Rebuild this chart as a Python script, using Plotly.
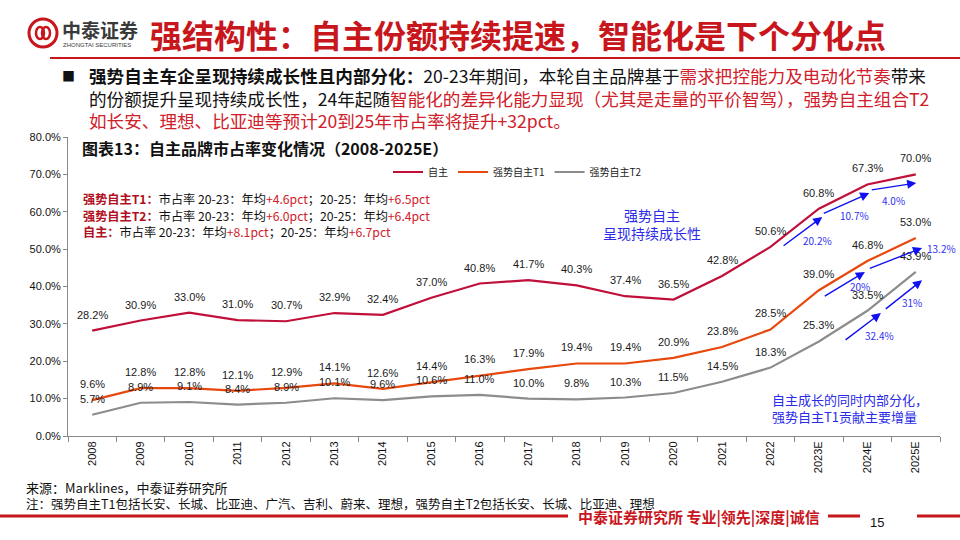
import plotly.graph_objects as go

years = ["2008", "2009", "2010", "2011", "2012", "2013", "2014", "2015", "2016",
         "2017", "2018", "2019", "2020", "2021", "2022", "2023E", "2024E", "2025E"]
zizhu = [28.2, 30.9, 33.0, 31.0, 30.7, 32.9, 32.4, 37.0, 40.8, 41.7, 40.3, 37.4,
         36.5, 42.8, 50.6, 60.8, 67.3, 70.0]
t1 = [9.6, 12.8, 12.8, 12.1, 12.9, 14.1, 12.6, 14.4, 16.3, 17.9, 19.4, 19.4,
      20.9, 23.8, 28.5, 39.0, 46.8, 53.0]
t2 = [5.7, 8.9, 9.1, 8.4, 8.9, 10.1, 9.6, 10.6, 11.0, 10.0, 9.8, 10.3,
      11.5, 14.5, 18.3, 25.3, 33.5, 43.9]
series_names = ["自主", "强势自主T1", "强势自主T2"]
series_colors = ["#C0103A", "#E8480C", "#8C8C8C"]

# growth arrows: (start_idx, start_val, end_idx, end_val, label, label_idx, label_val, anchor)
growth_arrows = [
    (14.24, 50.6, 15.07, 58.6, "20.2%", 14.98, 52.2, "center"),
    (15.07, 59.4, 16.04, 65.0, "10.7%", 15.73, 58.9, "center"),
    (16.06, 65.8, 17.01, 67.7, "4.0%", 16.53, 63.1, "center"),
    (15.09, 37.2, 15.95, 43.9, "20%", 15.85, 39.9, "center"),
    (16.02, 44.7, 17.13, 50.3, "13.2%", 17.18, 50.3, "left"),
    (15.52, 25.4, 16.28, 32.9, "32.4%", 16.26, 26.8, "center"),
    (16.35, 33.7, 17.13, 41.7, "31%", 16.92, 35.6, "center"),
]

W, H = 960, 540
L, R, T, B = 68, 20, 137, 104
PW, PH = W - L - R, H - T - B


def px(x):
    return (x - L) / PW


def py(y):
    return (H - B - y) / PH


CJK = "Noto Sans CJK SC"
RED = "#C8161D"

fig = go.Figure()
for name, vals, col in zip(series_names, [zizhu, t1, t2], series_colors):
    fig.add_trace(go.Scatter(x=years, y=vals, mode="lines", name=name,
                             line=dict(color=col, width=2.2)))

ann = []
# data labels (x given as category index so numeric-looking years stay categorical)
for vals in [zizhu, t1, t2]:
    for i, v in enumerate(vals):
        ann.append(dict(x=i, y=v, xref="x", yref="y", text=f"{v:.1f}%",
                        showarrow=False, yshift=16,
                        font=dict(family="Liberation Sans, Arial", size=11, color="#1a1a1a")))

# growth arrows
for (sx, sy, ex, ey, lab, lx, ly, anc) in growth_arrows:
    ann.append(dict(x=ex, y=ey, ax=sx, ay=sy, xref="x", yref="y", axref="x", ayref="y",
                    text="", showarrow=True, arrowhead=2, arrowsize=1.3, arrowwidth=1.4,
                    arrowcolor="#1010F0"))
    ann.append(dict(x=lx, y=ly, xref="x", yref="y", text=lab, showarrow=False,
                    xanchor=anc, font=dict(family=CJK, size=10, color="#3030F0")))

# header
ann.append(dict(x=px(60), y=py(29), xref="paper", yref="paper", text="<b>中泰证券</b>",
                showarrow=False, xanchor="left", yanchor="middle",
                font=dict(family=CJK, size=19, color="#3a3a3a")))
ann.append(dict(x=px(61), y=py(45), xref="paper", yref="paper", text="ZHONGTAI SECURITIES",
                showarrow=False, xanchor="left", yanchor="middle",
                font=dict(family="Liberation Sans", size=6, color="#3a3a3a")))
ann.append(dict(x=px(148), y=py(34), xref="paper", yref="paper",
                text="<b>强结构性：自主份额持续提速，智能化是下个分化点</b>",
                showarrow=False, xanchor="left", yanchor="middle",
                font=dict(family=CJK, size=32, color=RED)))

# bullet paragraph
ann.append(dict(x=px(60), y=py(76), xref="paper", yref="paper", text="■",
                showarrow=False, xanchor="left", yanchor="middle",
                font=dict(family=CJK, size=13, color="#111")))
para = [
    "<b>强势自主车企呈现持续成长性且内部分化：</b>20-23年期间，本轮自主品牌基于"
    "<span style='color:#D0202A'>需求把控能力及电动化节奏</span>带来",
    "的份额提升呈现持续成长性，24年起随<span style='color:#D0202A'>智能化的差异化能力显现（尤其是走量的平价智驾），强势自主组合T2</span>",
    "<span style='color:#D0202A'>如长安、理想、比亚迪等预计20到25年市占率将提升+32pct。</span>",
]
for i, line in enumerate(para):
    ann.append(dict(x=px(87), y=py(76 + 22 * i), xref="paper", yref="paper", text=line,
                    showarrow=False, xanchor="left", yanchor="middle",
                    font=dict(family=CJK, size=17.6, color="#111")))

# chart title
ann.append(dict(x=px(80), y=py(148), xref="paper", yref="paper",
                text="<b>图表13：自主品牌市占率变化情况（2008-2025E）</b>",
                showarrow=False, xanchor="left", yanchor="middle",
                font=dict(family=CJK, size=16, color="#111")))

# left summary
summary = [
    ("强势自主T1：", "+4.6pct", "+6.5pct"),
    ("强势自主T2：", "+6.0pct", "+6.4pct"),
    ("自主：", "+8.1pct", "+6.7pct"),
]
for i, (head, a, b) in enumerate(summary):
    txt = (f"<b><span style='color:#B01020'>{head}</span></b>市占率 20-23：年均"
           f"<span style='color:#D0202A'>{a}</span>；20-25：年均"
           f"<span style='color:#D0202A'>{b}</span>")
    ann.append(dict(x=px(82), y=py(199 + 16.5 * i), xref="paper", yref="paper", text=txt,
                    showarrow=False, xanchor="left", yanchor="middle", borderpad=0,
                    font=dict(family=CJK, size=12.2, color="#111")))

# blue commentary
ann.append(dict(x=px(652), y=py(224), xref="paper", yref="paper",
                text="强势自主<br>呈现持续成长性", showarrow=False, align="center",
                xanchor="center", yanchor="middle",
                font=dict(family=CJK, size=14, color="#2A2AE8")))
ann.append(dict(x=px(850), y=py(408), xref="paper", yref="paper",
                text="自主成长的同时内部分化，<br>强势自主T1贡献主要增量", showarrow=False,
                align="left", xanchor="center", yanchor="middle",
                font=dict(family=CJK, size=13, color="#2A2AE8")))

# footer notes
ann.append(dict(x=px(24), y=py(487), xref="paper", yref="paper",
                text="来源：Marklines，中泰证券研究所", showarrow=False,
                xanchor="left", yanchor="middle", font=dict(family=CJK, size=13, color="#111")))
ann.append(dict(x=px(24), y=py(503), xref="paper", yref="paper",
                text="注：强势自主T1包括长安、长城、比亚迪、广汽、吉利、蔚来、理想，强势自主T2包括长安、长城、比亚迪、理想",
                showarrow=False, xanchor="left", yanchor="middle",
                font=dict(family=CJK, size=12.5, color="#111")))
ann.append(dict(x=px(576), y=py(517), xref="paper", yref="paper",
                text="<b>中泰证券研究所 专业|领先|深度|诚信</b>", showarrow=False,
                xanchor="left", yanchor="middle", font=dict(family=CJK, size=15, color=RED)))
ann.append(dict(x=px(877), y=py(522), xref="paper", yref="paper", text="15",
                showarrow=False, xanchor="center", yanchor="middle",
                font=dict(family="Liberation Sans", size=13, color="#111")))

shapes = [
    # logo
    dict(type="circle", xref="paper", yref="paper", x0=px(29), x1=px(57), y0=py(47), y1=py(19),
         line=dict(color=RED, width=3)),
    dict(type="circle", xref="paper", yref="paper", x0=px(36), x1=px(44), y0=py(39), y1=py(27),
         line=dict(color=RED, width=2.5)),
    dict(type="circle", xref="paper", yref="paper", x0=px(42), x1=px(50), y0=py(39), y1=py(27),
         line=dict(color=RED, width=2.5)),
    # header rule
    dict(type="line", xref="paper", yref="paper", x0=px(50), x1=px(960), y0=py(58), y1=py(58),
         line=dict(color=RED, width=2)),
    # footer rules
    dict(type="line", xref="paper", yref="paper", x0=px(0), x1=px(568), y0=py(516), y1=py(516),
         line=dict(color=RED, width=3)),
    dict(type="line", xref="paper", yref="paper", x0=px(828), x1=px(860), y0=py(516), y1=py(516),
         line=dict(color=RED, width=3)),
    dict(type="line", xref="paper", yref="paper", x0=px(917), x1=px(960), y0=py(516), y1=py(516),
         line=dict(color=RED, width=3)),
]

fig.update_layout(
    width=W, height=H,
    margin=dict(l=L, r=R, t=T, b=B),
    paper_bgcolor="white", plot_bgcolor="white",
    showlegend=True,
    legend=dict(orientation="h", x=px(388), y=py(172), xanchor="left", yanchor="middle",
                font=dict(family=CJK, size=10, color="#222"), bgcolor="rgba(0,0,0,0)",
                itemwidth=30, tracegroupgap=0),
    xaxis=dict(type="category", tickangle=-90, showline=True, linecolor="#888", linewidth=1,
               ticks="outside", tickson="boundaries", ticklen=5, tickcolor="#888",
               showgrid=False, automargin=False,
               tickfont=dict(family="Liberation Sans, Arial", size=11, color="#111"),
               range=[-0.5, 17.5]),
    yaxis=dict(range=[0, 80], dtick=10, tickformat=".1f", ticksuffix="%", showline=True,
               linecolor="#888", linewidth=1, ticks="outside", ticklen=4, tickcolor="#888",
               showgrid=False, zeroline=False, automargin=False,
               tickfont=dict(family="Liberation Sans, Arial", size=11, color="#111")),
    annotations=ann,
    shapes=shapes,
)

fig.write_html("out.html", config={"displayModeBar": False},
               post_script="document.body.style.margin='0';document.body.style.overflow='hidden';")
